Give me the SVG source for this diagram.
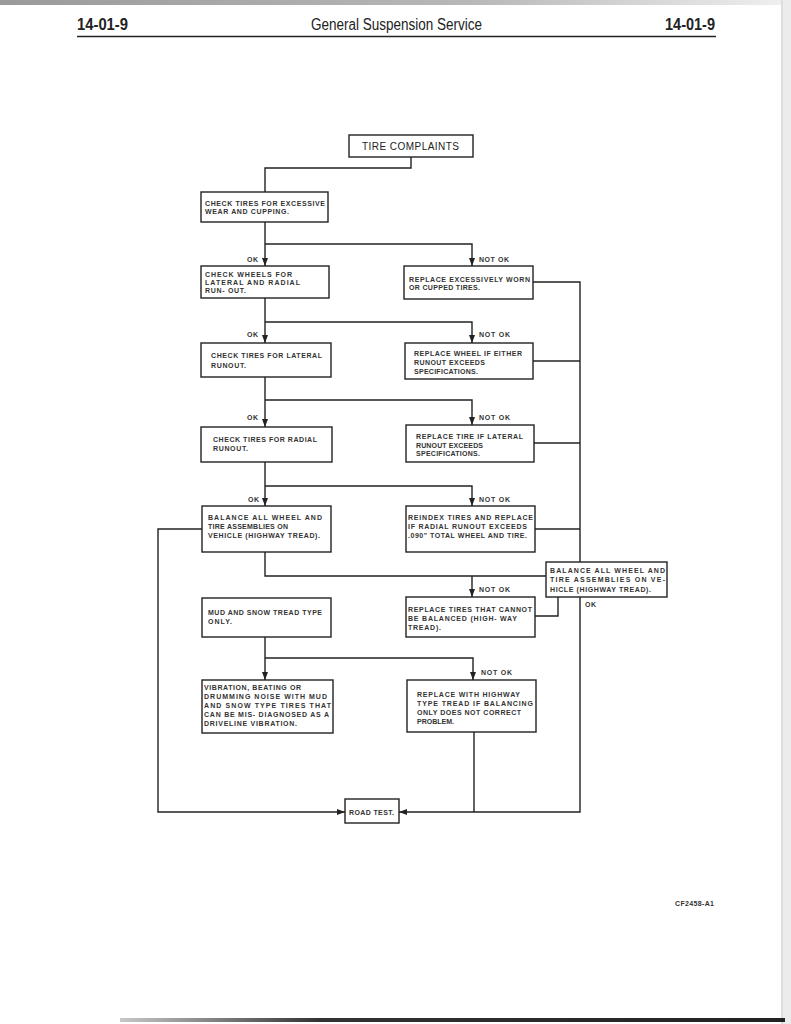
<svg xmlns="http://www.w3.org/2000/svg" width="791" height="1024" viewBox="0 0 791 1024">
<style>
.box{fill:#fff;stroke:#222;stroke-width:1.4}
.t{font-family:"Liberation Sans",Arial,sans-serif;font-size:7px;font-weight:bold;fill:#333}
.c{fill:none;stroke:#222;stroke-width:1.4}
.a{fill:none;stroke:#222;stroke-width:1.4;marker-end:url(#ah)}
.h{font-family:"Liberation Sans",Arial,sans-serif;font-size:16px;fill:#222}
</style>
<defs>
<marker id="ah" markerUnits="userSpaceOnUse" markerWidth="8" markerHeight="6" refX="8" refY="3" orient="auto">
<path d="M0,0 L8,3 L0,6 z" fill="#222"/>
</marker>
<linearGradient id="topg" x1="0" y1="0" x2="1" y2="0">
<stop offset="0" stop-color="#9a9a9a"/><stop offset="0.6" stop-color="#b8b8b8"/><stop offset="1" stop-color="#f0f0f0"/>
</linearGradient>
<linearGradient id="botg" x1="0" y1="0" x2="1" y2="0">
<stop offset="0" stop-color="#c8c8c8"/><stop offset="0.3" stop-color="#333"/><stop offset="1" stop-color="#222"/>
</linearGradient>
</defs>
<rect x="0" y="0" width="791" height="1024" fill="#fff"/>
<rect x="0" y="0" width="791" height="5" fill="url(#topg)"/>
<rect x="781" y="0" width="10" height="1024" fill="#ececec"/>
<line x1="782" y1="0" x2="782" y2="1024" stroke="#cfcfcf" stroke-width="1"/>
<rect x="120" y="1018" width="665" height="4" fill="url(#botg)"/>

<g id="header">
<text class="h" x="77" y="30" font-weight="bold" textLength="51" lengthAdjust="spacingAndGlyphs">14-01-9</text>
<text class="h" x="311" y="30" textLength="171" lengthAdjust="spacingAndGlyphs">General Suspension Service</text>
<text class="h" x="665" y="30" font-weight="bold" textLength="50" lengthAdjust="spacingAndGlyphs">14-01-9</text>
<line x1="77" y1="36.5" x2="716" y2="36.5" stroke="#222" stroke-width="1.5"/>
</g>

<g id="connectors">
<polyline class="c" points="411,157 411,168 265,168 265,192"/>
<polyline class="a" points="265,222 265,266"/>
<polyline class="a" points="265,244 472,244 472,266"/>
<polyline class="a" points="265,298 265,343"/>
<polyline class="a" points="265,322 472,322 472,343"/>
<polyline class="a" points="265,377 265,427"/>
<polyline class="a" points="265,400 472,400 472,425"/>
<polyline class="a" points="265,462 265,506"/>
<polyline class="a" points="265,486 472,486 472,506"/>
<polyline class="c" points="533,282 580,282 580,562"/>
<line class="c" x1="533" y1="361" x2="580" y2="361"/>
<line class="c" x1="534" y1="443" x2="580" y2="443"/>
<line class="c" x1="535" y1="529" x2="580" y2="529"/>
<polyline class="c" points="265,552 265,576 546,576"/>
<polyline class="a" points="472,576 472,597"/>
<polyline class="c" points="535,616 558,616 558,597"/>
<polyline class="a" points="202,529 158,529 158,812 345,812"/>
<polyline class="a" points="265,637 265,680"/>
<polyline class="a" points="265,658 473,658 473,680"/>
<polyline class="a" points="580,597 580,812 474,812 399,812"/>
<polyline class="c" points="474,732 474,812"/>
<g id="labels">
<text class="t" x="247" y="262" textLength="11" lengthAdjust="spacing">OK</text>
<text class="t" x="479" y="262" textLength="30" lengthAdjust="spacing">NOT OK</text>
<text class="t" x="247" y="337" textLength="11" lengthAdjust="spacing">OK</text>
<text class="t" x="479" y="337" textLength="31" lengthAdjust="spacing">NOT OK</text>
<text class="t" x="247" y="420" textLength="11" lengthAdjust="spacing">OK</text>
<text class="t" x="479" y="420" textLength="31" lengthAdjust="spacing">NOT OK</text>
<text class="t" x="248" y="502" textLength="11" lengthAdjust="spacing">OK</text>
<text class="t" x="479" y="502" textLength="31" lengthAdjust="spacing">NOT OK</text>
<text class="t" x="479" y="592" textLength="31" lengthAdjust="spacing">NOT OK</text>
<text class="t" x="585" y="607" textLength="11" lengthAdjust="spacing">OK</text>
<text class="t" x="481" y="675" textLength="31" lengthAdjust="spacing">NOT OK</text>
</g>
</g>

<g id="n-complaints">
<rect class="box" x="349" y="135" width="124" height="22"/>
<text x="362" y="149.5" font-family="Liberation Sans, Arial, sans-serif" font-size="10" fill="#222" textLength="97" lengthAdjust="spacing">TIRE COMPLAINTS</text>
</g>
<g id="n-excessive">
<rect class="box" x="201" y="192" width="127" height="30"/>
<text class="t" x="205" y="205.5" textLength="120" lengthAdjust="spacing">CHECK TIRES FOR EXCESSIVE</text>
<text class="t" x="205" y="213.5" textLength="84" lengthAdjust="spacing">WEAR AND CUPPING.</text>
</g>
<g id="n-wheels">
<rect class="box" x="201" y="266" width="128" height="32"/>
<text class="t" x="205" y="276.5" textLength="87" lengthAdjust="spacing">CHECK WHEELS FOR</text>
<text class="t" x="205" y="284.5" textLength="95" lengthAdjust="spacing">LATERAL AND RADIAL</text>
<text class="t" x="205" y="292.5" textLength="41" lengthAdjust="spacing">RUN- OUT.</text>
</g>
<g id="n-replace-worn">
<rect class="box" x="404" y="266" width="129" height="33"/>
<text class="t" x="409" y="281.5" textLength="121" lengthAdjust="spacing">REPLACE EXCESSIVELY WORN</text>
<text class="t" x="409" y="289.5" textLength="71" lengthAdjust="spacing">OR CUPPED TIRES.</text>
</g>
<g id="n-lateral">
<rect class="box" x="201" y="343" width="130" height="34"/>
<text class="t" x="211" y="357.5" textLength="111" lengthAdjust="spacing">CHECK TIRES FOR LATERAL</text>
<text class="t" x="211" y="367.5" textLength="35" lengthAdjust="spacing">RUNOUT.</text>
</g>
<g id="n-replace-wheel">
<rect class="box" x="405" y="343" width="128" height="36"/>
<text class="t" x="414" y="355.5" textLength="108" lengthAdjust="spacing">REPLACE WHEEL IF EITHER</text>
<text class="t" x="414" y="364.5" textLength="71" lengthAdjust="spacing">RUNOUT EXCEEDS</text>
<text class="t" x="414" y="373.5" textLength="64" lengthAdjust="spacing">SPECIFICATIONS.</text>
</g>
<g id="n-radial">
<rect class="box" x="201" y="427" width="131" height="35"/>
<text class="t" x="213" y="441.5" textLength="104" lengthAdjust="spacing">CHECK TIRES FOR RADIAL</text>
<text class="t" x="213" y="450.5" textLength="35" lengthAdjust="spacing">RUNOUT.</text>
</g>
<g id="n-replace-tire">
<rect class="box" x="406" y="425" width="128" height="37"/>
<text class="t" x="416" y="438.5" textLength="107" lengthAdjust="spacing">REPLACE TIRE IF LATERAL</text>
<text class="t" x="416" y="447.5" textLength="67" lengthAdjust="spacing">RUNOUT EXCEEDS</text>
<text class="t" x="416" y="455.5" textLength="64" lengthAdjust="spacing">SPECIFICATIONS.</text>
</g>
<g id="n-balance">
<rect class="box" x="202" y="506" width="129" height="46"/>
<text class="t" x="208" y="519.5" textLength="114" lengthAdjust="spacing">BALANCE ALL WHEEL AND</text>
<text class="t" x="208" y="528.5" textLength="80" lengthAdjust="spacing">TIRE ASSEMBLIES ON</text>
<text class="t" x="208" y="537.5" textLength="112" lengthAdjust="spacing">VEHICLE (HIGHWAY TREAD).</text>
</g>
<g id="n-reindex">
<rect class="box" x="406" y="506" width="129" height="46"/>
<text class="t" x="408" y="519.5" textLength="125" lengthAdjust="spacing">REINDEX TIRES AND REPLACE</text>
<text class="t" x="408" y="528.5" textLength="119" lengthAdjust="spacing">IF RADIAL RUNOUT EXCEEDS</text>
<text class="t" x="408" y="537.5" textLength="119" lengthAdjust="spacing">.090" TOTAL WHEEL AND TIRE.</text>
</g>
<g id="n-balance2">
<rect class="box" x="546" y="562" width="121" height="35"/>
<text class="t" x="550" y="572.5" textLength="115" lengthAdjust="spacing">BALANCE ALL WHEEL AND</text>
<text class="t" x="550" y="582" textLength="115" lengthAdjust="spacing">TIRE ASSEMBLIES ON VE-</text>
<text class="t" x="550" y="591.5" textLength="101" lengthAdjust="spacing">HICLE (HIGHWAY TREAD).</text>
</g>
<g id="n-mud">
<rect class="box" x="202" y="598" width="129" height="39"/>
<text class="t" x="208" y="614.5" textLength="114" lengthAdjust="spacing">MUD AND SNOW TREAD TYPE</text>
<text class="t" x="208" y="624" textLength="24" lengthAdjust="spacing">ONLY.</text>
</g>
<g id="n-replace-cannot">
<rect class="box" x="406" y="597" width="129" height="40"/>
<text class="t" x="408" y="611.5" textLength="124" lengthAdjust="spacing">REPLACE TIRES THAT CANNOT</text>
<text class="t" x="408" y="621" textLength="109" lengthAdjust="spacing">BE BALANCED (HIGH- WAY</text>
<text class="t" x="408" y="630" textLength="33" lengthAdjust="spacing">TREAD).</text>
</g>
<g id="n-vibration">
<rect class="box" x="202" y="680" width="131" height="53"/>
<text class="t" x="204" y="689.5" textLength="97" lengthAdjust="spacing">VIBRATION, BEATING OR</text>
<text class="t" x="204" y="699" textLength="123" lengthAdjust="spacing">DRUMMING NOISE WITH MUD</text>
<text class="t" x="204" y="708" textLength="127" lengthAdjust="spacing">AND SNOW TYPE TIRES THAT</text>
<text class="t" x="204" y="717" textLength="125" lengthAdjust="spacing">CAN BE MIS- DIAGNOSED AS A</text>
<text class="t" x="204" y="726" textLength="93" lengthAdjust="spacing">DRIVELINE VIBRATION.</text>
</g>
<g id="n-highway">
<rect class="box" x="407" y="680" width="129" height="52"/>
<text class="t" x="417" y="697" textLength="103" lengthAdjust="spacing">REPLACE WITH HIGHWAY</text>
<text class="t" x="417" y="705.5" textLength="116" lengthAdjust="spacing">TYPE TREAD IF BALANCING</text>
<text class="t" x="417" y="714.5" textLength="104" lengthAdjust="spacing">ONLY DOES NOT CORRECT</text>
<text class="t" x="417" y="723.5" textLength="37" lengthAdjust="spacing">PROBLEM.</text>
</g>
<g id="n-roadtest">
<rect class="box" x="345" y="799" width="54" height="24"/>
<text class="t" x="349" y="814.5" textLength="45" lengthAdjust="spacing">ROAD TEST.</text>
</g>
<text class="t" x="675" y="905.5" textLength="39" lengthAdjust="spacing">CF2458-A1</text>
</svg>
